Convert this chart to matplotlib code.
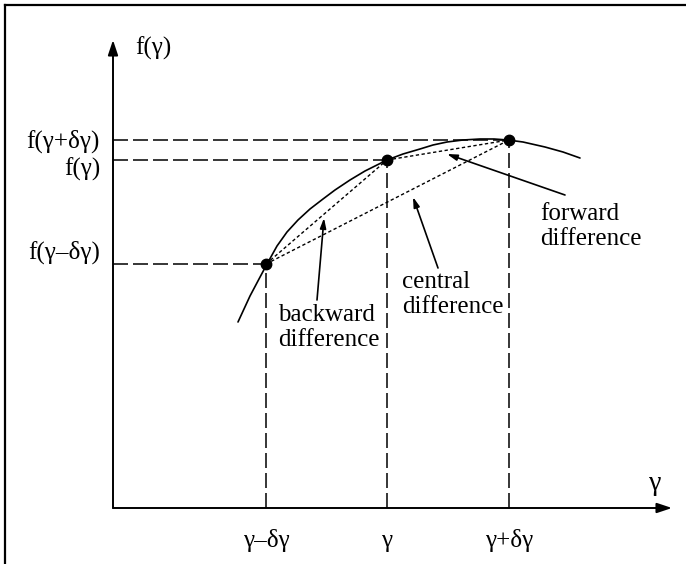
import matplotlib
matplotlib.use("Agg")
import matplotlib.pyplot as plt
from matplotlib.lines import Line2D

plt.rcParams['font.family'] = ['Liberation Serif', 'DejaVu Serif']
plt.rcParams['lines.scale_dashes'] = False

# ---- data (diagram units) ----
tick_x = [153, 274, 396]
tick_labels = ["γ–δγ", "γ", "γ+δγ"]
f_vals = [244, 348, 368]
f_labels = ["f(γ–δγ)", "f(γ)", "f(γ+δγ)"]

curve_x = [125, 137, 146, 154, 164, 174, 185, 197, 210, 222, 237, 252, 274,
           290, 307, 320, 334, 350, 367, 381, 395, 410, 432, 450, 467]
curve_y = [186, 212, 229, 244, 262, 276, 288, 299, 309, 318, 328, 337, 348,
           354, 359, 363, 366, 368, 369, 369, 368, 366, 361, 356, 350]

x_axis_len = 559
y_axis_len = 468

fig = plt.figure(figsize=(6.86, 5.64), dpi=100)
ax = fig.add_axes([0, 0, 1, 1])
ax.set_xlim(-113, 573)
ax.set_ylim(-56, 508)
ax.axis('off')

# border (left and top)
fig.add_artist(Line2D([5/686, 5/686], [0, 1 - 5/564], transform=fig.transFigure, color='black', lw=1.6))
fig.add_artist(Line2D([5/686, 1], [1 - 5/564, 1 - 5/564], transform=fig.transFigure, color='black', lw=1.6))

# axes with arrows
ax.annotate("", xy=(x_axis_len, 0), xytext=(0, 0),
            arrowprops=dict(arrowstyle='-|>,head_length=0.9,head_width=0.3', color='black', lw=1.4, shrinkA=0, shrinkB=0))
ax.annotate("", xy=(0, y_axis_len), xytext=(0, 0),
            arrowprops=dict(arrowstyle='-|>,head_length=0.9,head_width=0.3', color='black', lw=1.4, shrinkA=0, shrinkB=0))

# dashed guide lines
for xv, fv in zip(tick_x, f_vals):
    ax.plot([0, xv], [fv, fv], color='black', lw=1.1, dashes=(10.8, 3.6))
    ax.plot([xv, xv], [0, fv], color='black', lw=1.1, dashes=(10.8, 3.6))

# function curve
ax.plot(curve_x, curve_y, color='black', lw=1.2, solid_capstyle='round', solid_joinstyle='round')

# secant lines (backward, forward, central)
sec_pairs = [(0, 1), (1, 2), (0, 2)]
for i, j in sec_pairs:
    ax.plot([tick_x[i], tick_x[j]], [f_vals[i], f_vals[j]], color='black', lw=1.0, dashes=(2.4, 1.8))

# points
ax.plot(tick_x, f_vals, 'o', color='black', ms=7.5)

fs = 18
# tick labels
for xv, lab in zip(tick_x, tick_labels):
    ax.text(xv, -33, lab, ha='center', va='center', fontsize=fs)

# f labels on left
f_offsets = [12, -9, -1]
for fv, lab, off in zip(f_vals, f_labels, f_offsets):
    ax.text(-13, fv + off, lab, ha='right', va='center', fontsize=fs)

# axis labels
ax.text(40, 460, "f(γ)", ha='center', va='center', fontsize=fs)
ax.text(542, 25, "γ", ha='center', va='center', fontsize=fs + 2)

# annotations
arrow_kw = dict(arrowstyle='-|>,head_length=0.6,head_width=0.18', color='black', lw=1.2, shrinkA=0, shrinkB=0)
ax.annotate("", xy=(211, 290), xytext=(204, 208), arrowprops=arrow_kw)
ax.annotate("", xy=(300, 311), xytext=(325, 240), arrowprops=arrow_kw)
ax.annotate("", xy=(334, 354), xytext=(452, 313), arrowprops=arrow_kw)

ax.text(165, 204, "backward\ndifference", ha='left', va='top', fontsize=fs, linespacing=1.15)
ax.text(289, 237, "central\ndifference", ha='left', va='top', fontsize=fs, linespacing=1.15)
ax.text(427, 305, "forward\ndifference", ha='left', va='top', fontsize=fs, linespacing=1.15)

fig.savefig("out.png", dpi=100)
